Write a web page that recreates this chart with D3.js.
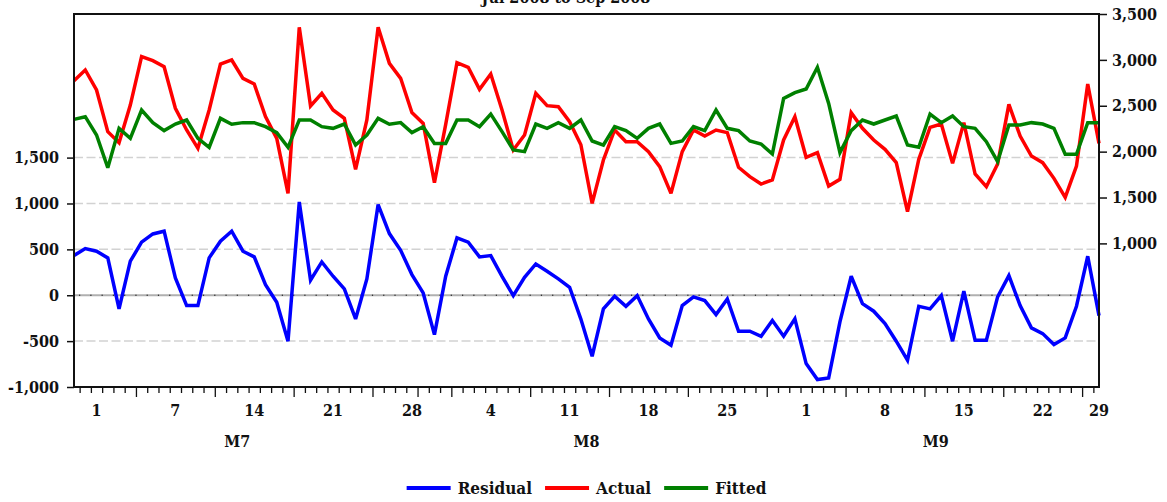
<!DOCTYPE html>
<html>
<head>
<meta charset="utf-8">
<script src="https://cdn.jsdelivr.net/npm/d3@7/dist/d3.min.js"></script>
<style>
  html, body { margin: 0; padding: 0; background: #ffffff; }
  svg text { font-family: "DejaVu Serif Condensed", "DejaVu Serif", serif; font-stretch: condensed; font-weight: bold; fill: #111; }
</style>
</head>
<body>
<svg id="chart" width="1167" height="502"></svg>
<script>
// ---------- data ----------
const title = "Jul 2008 to Sep 2008";
const startDate = new Date(2008, 6, 1);
const endDate = new Date(2008, 9, 1);   // exclusive
const monthLabels = ["M7", "M8", "M9"];
const weekLabels = ["1", "7", "14", "21", "28", "4", "11", "18", "25", "1", "8", "15", "22", "29"];
const leftTicks = [-1000, -500, 0, 500, 1000, 1500];
const rightTicks = [1000, 1500, 2000, 2500, 3000, 3500];
const seriesNames = ["Residual", "Actual", "Fitted"];

const residual = [432, 509, 480, 407, -149, 371, 578, 668, 698, 189, -113, -113, 407, 589, 698, 480, 418, 116, -76, -501, 1017, 163, 363,
  207, 69, -258, 178, 988, 672, 490, 225, 25, -429, 207, 625, 578, 418, 432, 205, -4, 196, 341, 262, 178, 87, -260,
  -665, -149, -11, -120, -4, -258, -465, -545, -113, -18, -58, -211, -40, -392, -392, -447, -276, -447, -258, -745, -919, -901,
  -290, 207, -91, -174, -309, -501, -708, -120, -149, -4, -501, 44, -490, -490, -18, 214, -113, -356, -418, -538, -465, -120, 425, -222];

const actual = [2773, 2890, 2672, 2218, 2098, 2508, 3035, 2991, 2926, 2472, 2236, 2036, 2454, 2955, 2999, 2799, 2737, 2381, 2145, 1545, 3355, 2497, 2635,
  2454, 2363, 1807, 2345, 3355, 2962, 2799, 2425, 2308, 1662, 2297, 2970, 2919, 2679, 2846, 2454, 2018, 2181, 2635, 2501, 2490, 2327, 2075,
  1436, 1909, 2236, 2109, 2109, 2000, 1836, 1545, 2000, 2236, 2170, 2236, 2207, 1829, 1727, 1647, 1691, 2127, 2381, 1938, 1989, 1625,
  1698, 2425, 2254, 2127, 2025, 1880, 1346, 1916, 2265, 2301, 1872, 2316, 1756, 1618, 1865, 2515, 2170, 1952, 1880, 1709, 1502, 1843, 2737, 2090];

const fitted = [2352, 2381, 2181, 1825, 2254, 2145, 2454, 2316, 2229, 2301, 2345, 2145, 2047, 2363, 2298, 2316, 2316, 2272, 2207, 2047, 2345, 2345, 2272,
  2254, 2301, 2072, 2181, 2363, 2298, 2316, 2207, 2272, 2090, 2090, 2345, 2345, 2272, 2410, 2218, 2018, 2000, 2301, 2254, 2316, 2254, 2345,
  2116, 2072, 2272, 2229, 2145, 2254, 2301, 2090, 2116, 2272, 2229, 2454, 2254, 2229, 2116, 2083, 1974, 2581, 2643, 2683, 2919, 2526,
  1989, 2229, 2345, 2301, 2345, 2388, 2072, 2047, 2410, 2316, 2388, 2272, 2254, 2109, 1891, 2290, 2290, 2316, 2301, 2254, 1971, 1971, 2316, 2316];

const colors = { Residual: "#0000ff", Actual: "#ff0000", Fitted: "#008000" };

// ---------- layout ----------
const W = 1167, H = 502;
const plot = { left: 74, right: 1099, top: 14, bottom: 387 };

const svg = d3.select("#chart");
const dates = d3.timeDay.range(startDate, endDate);
const n = dates.length;

const x = d3.scaleLinear().domain([0, n - 1]).range([plot.left, plot.right]);
const yL = d3.scaleLinear().domain([-1000, 3065]).range([plot.bottom, plot.top]);
const yR = d3.scaleLinear().domain([-565, 3500]).range([plot.bottom, plot.top]);

const locale = d3.formatLocale({ decimal: ".", thousands: ",", grouping: [3], currency: ["", ""], minus: "-" });
const fmt = locale.format(",");

// grid lines (left axis)
svg.append("g").selectAll("line")
  .data(leftTicks.filter(v => v !== 0 && v !== -1000))
  .join("line")
  .attr("x1", plot.left).attr("x2", plot.right)
  .attr("y1", d => yL(d)).attr("y2", d => yL(d))
  .attr("stroke", "#d2d2d2").attr("stroke-width", 1.5)
  .attr("stroke-dasharray", "9,3.5");

// zero line
svg.append("line")
  .attr("x1", plot.left).attr("x2", plot.right)
  .attr("y1", yL(0)).attr("y2", yL(0))
  .attr("stroke", "#b0b0b0").attr("stroke-width", 2);
const halfSteps = d3.range(0, n - 1).map(i => i + 0.5);
svg.append("g").selectAll("rect")
  .data(halfSteps)
  .join("rect")
  .attr("x", d => x(d) - 0.6).attr("y", yL(0) - 0.6)
  .attr("width", 1.2).attr("height", 1.2)
  .attr("fill", "#222");

// series lines
const seriesData = { Residual: residual, Actual: actual, Fitted: fitted };
const scaleFor = { Residual: yL, Actual: yR, Fitted: yR };
seriesNames.forEach(name => {
  const yS = scaleFor[name];
  const line = d3.line().x((d, i) => x(i)).y(d => yS(d));
  svg.append("path")
    .datum(seriesData[name])
    .attr("d", line)
    .attr("fill", "none")
    .attr("stroke", colors[name])
    .attr("stroke-width", 3.5)
    .attr("stroke-linejoin", "miter")
    .attr("stroke-miterlimit", 3);
});

// clip overflow
svg.append("rect").attr("x", 0).attr("y", 0).attr("width", W).attr("height", plot.top).attr("fill", "#fff");

// frame
svg.append("rect")
  .attr("x", plot.left).attr("y", plot.top)
  .attr("width", plot.right - plot.left).attr("height", plot.bottom - plot.top)
  .attr("fill", "none").attr("stroke", "#111").attr("stroke-width", 2);

// left axis
const axL = svg.append("g").attr("transform", `translate(${plot.left},0)`)
  .call(d3.axisLeft(yL).tickValues(leftTicks).tickFormat(fmt).tickSize(7).tickPadding(8));
axL.select(".domain").remove();
axL.selectAll("line").attr("stroke", "#111").attr("stroke-width", 1.5);
axL.selectAll("text").attr("font-size", 16).attr("font-family", null).attr("fill", "#111");

// right axis
const axR = svg.append("g").attr("transform", `translate(${plot.right},0)`)
  .call(d3.axisRight(yR).tickValues(rightTicks).tickFormat(fmt).tickSize(8).tickPadding(5));
axR.select(".domain").remove();
axR.selectAll("line").attr("stroke", "#111").attr("stroke-width", 1.5);
axR.selectAll("text").attr("font-size", 16).attr("font-family", null).attr("fill", "#111");

// x axis ticks
const majorTicks = halfSteps.filter(h => {
  const next = dates[h + 0.5];
  return next.getDay() === 1 || next.getDate() === 1;
});
const minorTicks = halfSteps.filter(h => !majorTicks.includes(h));
const axMinor = svg.append("g").attr("transform", `translate(0,${plot.bottom})`)
  .call(d3.axisBottom(x).tickValues(minorTicks).tickSize(6).tickFormat(""));
axMinor.select(".domain").remove();
axMinor.selectAll("line").attr("stroke", "#111").attr("stroke-width", 1.3);
const axMajor = svg.append("g").attr("transform", `translate(0,${plot.bottom})`)
  .call(d3.axisBottom(x).tickValues(majorTicks).tickSize(10).tickFormat(""));
axMajor.select(".domain").remove();
axMajor.selectAll("line").attr("stroke", "#111").attr("stroke-width", 1.3);

// week labels: centered on each (Mon..Sun) week
const mondayIdx = dates.map((d, i) => d.getDay() === 1 ? i : -99).filter(i => i >= 0);
const weekCenters = [mondayIdx[0] - 7, ...mondayIdx].map(m => Math.min(m + 3, n - 1));
svg.append("g").selectAll("text")
  .data(weekLabels)
  .join("text")
  .attr("x", (d, i) => x(weekCenters[i]))
  .attr("y", 416)
  .attr("text-anchor", "middle")
  .attr("font-size", 16)
  .text(d => d);

// month labels
const monthStarts = dates.map((d, i) => d.getDate() === 1 ? i : -1).filter(i => i >= 0);
svg.append("g").selectAll("text")
  .data(monthLabels)
  .join("text")
  .attr("x", (d, i) => x(monthStarts[i] + 14.5))
  .attr("y", 447)
  .attr("text-anchor", "middle")
  .attr("font-size", 16)
  .text(d => d);

// title (partially cut at top)
svg.append("text")
  .attr("x", 566).attr("y", 3)
  .attr("text-anchor", "middle")
  .attr("font-size", 16)
  .text(title);

// legend
const leg = svg.append("g");
const items = [];
let cx = 0;
seriesNames.forEach((name, k) => {
  const g = leg.append("g");
  g.append("line").attr("x1", cx).attr("x2", cx + 44).attr("y1", 488).attr("y2", 488)
    .attr("stroke", colors[name]).attr("stroke-width", 4);
  const t = g.append("text").attr("x", cx + 51).attr("y", 494).attr("font-size", 17).text(name);
  cx += 51 + t.node().getComputedTextLength() + 13;
});
const legW = cx - 13;
leg.attr("transform", `translate(${(plot.left + plot.right) / 2 - legW / 2},0)`);
</script>
</body>
</html>
